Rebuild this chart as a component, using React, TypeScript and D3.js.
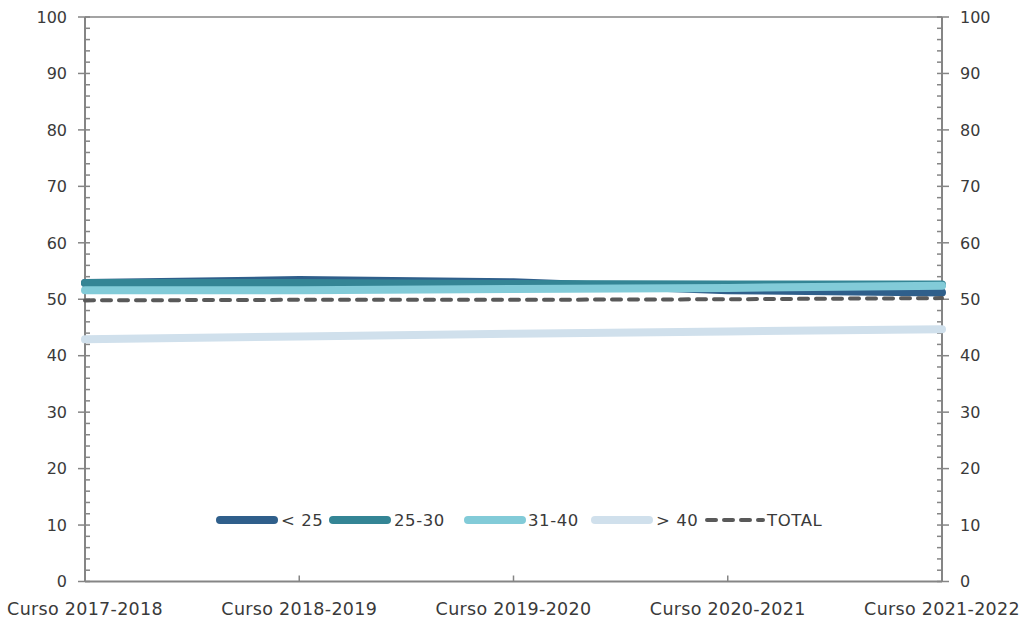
import React from "react";
import * as d3 from "d3";

const categories = ["Curso 2017-2018", "Curso 2018-2019", "Curso 2019-2020", "Curso 2020-2021", "Curso 2021-2022"];
const seriesNames = ["< 25", "25-30", "31-40", "> 40", "TOTAL"];
const under25 = [52.9, 53.4, 53.0, 51.6, 51.2];
const s25to30 = [52.9, 52.9, 52.7, 52.6, 52.6];
const s31to40 = [51.6, 51.6, 51.8, 52.0, 52.4];
const over40 = [42.9, 43.4, 43.9, 44.3, 44.7];
const total = [49.8, 49.9, 49.9, 50.0, 50.2];
const yTicks = [0, 10, 20, 30, 40, 50, 60, 70, 80, 90, 100];

const seriesValues = [under25, s25to30, s31to40, over40, total];
const colors = ["#2f5f8b", "#348595", "#82cbd8", "#d0e0ec", "#595959"];

const W = 1026;
const H = 622;
const left = 85;
const right = 942;
const top = 17;
const bottom = 581.5;
const axisColor = "#858585";
const textColor = "#3a3a3a";
const font = "DejaVu Sans, sans-serif";

// legend layout (sample start, text start)
const legendSampleX = [216, 329, 464, 591, 705];
const legendTextX = [281, 394, 528, 656, 767];
const legendY = 520;

export default function App() {
  const x = d3.scalePoint<string>().domain(categories).range([left, right]);
  const y = d3.scaleLinear().domain([0, 100]).range([bottom, top]);
  const line = d3
    .line<number>()
    .x((_, i) => x(categories[i]) as number)
    .y((d) => y(d));

  const minor = d3.range(0, 101, 2).filter((v) => v % 10 !== 0);

  return (
    <svg width={W} height={H} style={{ position: "absolute", left: 0, top: 0, background: "#fff" }}>
      {/* frame */}
      <line x1={left} x2={right} y1={top} y2={top} stroke={axisColor} strokeWidth={1.5} />
      <line x1={left} x2={left} y1={top} y2={bottom} stroke={axisColor} strokeWidth={2} />
      <line x1={right} x2={right} y1={top} y2={bottom} stroke={axisColor} strokeWidth={2} />
      <line x1={left} x2={right} y1={bottom} y2={bottom} stroke={axisColor} strokeWidth={2} />
      {/* minor ticks */}
      {minor.map((v) => (
        <g key={"m" + v}>
          <line x1={left} x2={left + 5} y1={y(v)} y2={y(v)} stroke={axisColor} strokeWidth={1.5} />
          <line x1={right - 5} x2={right} y1={y(v)} y2={y(v)} stroke={axisColor} strokeWidth={1.5} />
        </g>
      ))}
      {/* major ticks + labels */}
      {yTicks.map((v) => (
        <g key={"t" + v}>
          <line x1={left - 7} x2={left + 5} y1={y(v)} y2={y(v)} stroke={axisColor} strokeWidth={1.5} />
          <line x1={right - 5} x2={right + 7} y1={y(v)} y2={y(v)} stroke={axisColor} strokeWidth={1.5} />
          <text x={67} y={y(v)} dy="0.36em" textAnchor="end" fontFamily={font} fontSize={16} fill={textColor}>
            {v}
          </text>
          <text x={960} y={y(v)} dy="0.36em" textAnchor="start" fontFamily={font} fontSize={16} fill={textColor}>
            {v}
          </text>
        </g>
      ))}
      {/* x ticks */}
      {categories.slice(1, -1).map((c) => (
        <line key={"x" + c} x1={x(c)} x2={x(c)} y1={bottom} y2={bottom - 6} stroke={axisColor} strokeWidth={1.5} />
      ))}
      {categories.map((c) => (
        <text key={"l" + c} x={x(c)} y={615} textAnchor="middle" fontFamily={font} fontSize={17.5} letterSpacing={0.3} fill={textColor}>
          {c}
        </text>
      ))}
      {/* series */}
      {seriesValues.map((vals, i) => (
        <path
          key={"s" + i}
          d={line(vals) as string}
          fill="none"
          stroke={colors[i]}
          strokeWidth={i === 4 ? 4 : 8}
          strokeLinecap="round"
          strokeLinejoin="round"
          strokeDasharray={i === 4 ? "9 8" : undefined}
        />
      ))}
      {/* legend */}
      {seriesNames.map((n, i) => (
        <g key={"lg" + i}>
          <line
            x1={legendSampleX[i] + (i === 4 ? 2 : 4)}
            x2={legendSampleX[i] + 58}
            y1={legendY}
            y2={legendY}
            stroke={colors[i]}
            strokeWidth={i === 4 ? 4 : 8}
            strokeLinecap="round"
            strokeDasharray={i === 4 ? "9 8" : undefined}
          />
          <text x={legendTextX[i]} y={legendY} dy="0.36em" fontFamily={font} fontSize={16.5} letterSpacing={0.6} fill={textColor}>
            {n}
          </text>
        </g>
      ))}
    </svg>
  );
}
